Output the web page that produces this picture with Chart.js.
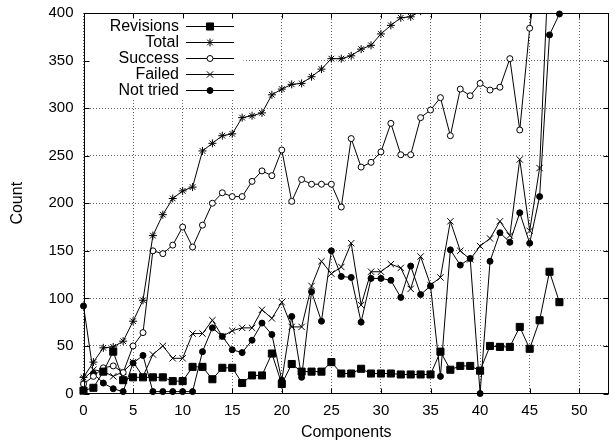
<!DOCTYPE html>
<html>
<head>
<meta charset="utf-8">
<script src="https://cdn.jsdelivr.net/npm/chart.js@4.4.0/dist/chart.umd.min.js"></script>
<style>
  html, body { margin: 0; padding: 0; background: #fff; }
  #wrap { width: 615px; height: 442px; }
</style>
</head>
<body>
<div id="wrap"><canvas id="chart" width="615" height="442"></canvas></div>
<script>
// components on the x axis
const components = [0, 1, 2, 3, 4, 5, 6, 7, 8, 9, 10, 11, 12, 13, 14, 15, 16, 17, 18, 19,
  20, 21, 22, 23, 24, 25, 26, 27, 28, 29, 30, 31, 32, 33, 34, 35, 36, 37, 38, 39,
  40, 41, 42, 43, 44, 45, 46, 47, 48];

const revisions = [3, 6, 23, 44, 14, 17, 17, 17, 17, 13, 13, 28, 28, 15, 27, 27, 11, 19, 19, 42,
  10, 31, 23, 23, 23, 33, 21, 21, 26, 21, 21, 21, 20, 20, 20, 20, 44, 25, 29, 29,
  24, 50, 49, 49, 70, 47, 77, 128, 96];

const total = [17, 33, 48, 49, 55, 76, 98, 166, 188, 205, 213, 217, 255, 263, 271, 273, 290, 292, 295, 314,
  320, 325, 326, 333, 341, 352, 352, 355, 362, 366, 378, 387, 395, 396, 402, 410, 418, 425, 430, 436,
  440, 447, 452, 460, 470, 478, 520, 560, 580];

const success = [10, 18, 27, 29, 22, 50, 64, 150, 147, 156, 175, 154, 177, 200, 211, 207, 207, 223, 234, 229,
  256, 202, 225, 220, 220, 220, 196, 268, 238, 243, 254, 284, 251, 251, 290, 298, 311, 271, 320, 313,
  326, 319, 322, 352, 277, 384, 460, 510, 530];

const failed = [15, 25, 23, 18, 23, 33, 18, 41, 50, 37, 37, 63, 63, 77, 60, 66, 69, 69, 88, 79,
  96, 70, 70, 113, 139, 126, 133, 158, 93, 128, 128, 136, 132, 110, 144, 114, 122, 181, 150, 141,
  155, 163, 181, 166, 246, 171, 237, 470, 500];

const notTried = [92, 21, 11, 5, 2, 32, 40, 2, 2, 2, 2, 2, 44, 69, 60, 46, 43, 56, 74, 62,
  14, 81, 17, 107, 76, 150, 123, 122, 75, 121, 121, 119, 101, 134, 104, 113, 18, 151, 135, 142,
  0, 139, 169, 159, 190, 158, 207, 377, 399];

const xTicks = [0, 5, 10, 15, 20, 25, 30, 35, 40, 45, 50];
const yTicks = [0, 50, 100, 150, 200, 250, 300, 350, 400];

const FONT = '"Liberation Sans", Arial, Helvetica, sans-serif';
Chart.defaults.font.family = FONT;
Chart.defaults.color = '#000';

const pairs = (vals) => vals.map((v, i) => ({ x: components[i], y: v }));

function series(label, vals, style, radius, fill, clipTop) {
  return {
    label: label,
    data: pairs(vals),
    borderColor: '#000',
    borderWidth: 1,
    pointStyle: style,
    pointRadius: radius,
    pointBorderColor: '#000',
    pointBorderWidth: 1,
    pointBackgroundColor: fill,
    tension: 0,
    clip: { left: 6, right: 6, top: clipTop, bottom: 6 }
  };
}

// draw one legend marker the same way the points look
function marker(ctx, style, r, fill, x, y) {
  ctx.beginPath();
  if (style === 'rect') {
    const s = Math.SQRT1_2 * r;
    ctx.rect(x - s, y - s, 2 * s, 2 * s);
    ctx.fillStyle = fill; ctx.fill(); ctx.stroke();
  } else if (style === 'circle') {
    ctx.arc(x, y, r, 0, Math.PI * 2);
    ctx.fillStyle = fill; ctx.fill(); ctx.stroke();
  } else if (style === 'crossRot') {
    const d = Math.SQRT1_2 * r;
    ctx.moveTo(x - d, y - d); ctx.lineTo(x + d, y + d);
    ctx.moveTo(x - d, y + d); ctx.lineTo(x + d, y - d);
    ctx.stroke();
  } else if (style === 'star') {
    const d = Math.SQRT1_2 * r;
    ctx.moveTo(x - r, y); ctx.lineTo(x + r, y);
    ctx.moveTo(x, y - r); ctx.lineTo(x, y + r);
    ctx.moveTo(x - d, y - d); ctx.lineTo(x + d, y + d);
    ctx.moveTo(x - d, y + d); ctx.lineTo(x + d, y - d);
    ctx.stroke();
  }
}

// gnuplot style key in the top left corner
const keyPlugin = {
  id: 'gnuKey',
  beforeDatasetsDraw(chart) {
    const { ctx, chartArea } = chart;
    ctx.save();
    ctx.fillStyle = '#fff';
    ctx.fillRect(chartArea.left + 1, chartArea.top + 1, 159, 85);
    ctx.restore();
  },
  afterDraw(chart) {
    const { ctx, chartArea } = chart;
    const textRight = chartArea.left + 95.5;
    const lineStart = chartArea.left + 102.5;
    const lineEnd = chartArea.left + 150.5;
    ctx.save();
    ctx.font = '16px ' + FONT;
    ctx.textAlign = 'right';
    ctx.textBaseline = 'middle';
    ctx.strokeStyle = '#000';
    ctx.lineWidth = 1;
    chart.data.datasets.forEach((ds, i) => {
      const y = chartArea.top + 13 + i * 16;
      ctx.fillStyle = '#000';
      ctx.fillText(ds.label, textRight, y + 0.5);
      ctx.beginPath();
      ctx.moveTo(lineStart, y + 0.5);
      ctx.lineTo(lineEnd, y + 0.5);
      ctx.stroke();
      marker(ctx, ds.pointStyle, ds.pointRadius, ds.pointBackgroundColor, (lineStart + lineEnd) / 2, y + 0.5);
    });
    ctx.restore();
  }
};

// closed frame with inward tick marks on all four sides
const framePlugin = {
  id: 'frame',
  afterDraw(chart) {
    const { ctx, chartArea, scales } = chart;
    const L = Math.round(chartArea.left) + 0.5;
    const R = Math.round(chartArea.right) - 0.5;
    const T = Math.round(chartArea.top) + 0.5;
    const B = Math.round(chartArea.bottom) - 0.5;
    ctx.save();
    ctx.strokeStyle = '#000';
    ctx.lineWidth = 1;
    ctx.beginPath();
    xTicks.forEach(v => {
      const px = Math.round(scales.x.getPixelForValue(v)) + 0.5;
      ctx.moveTo(px, B); ctx.lineTo(px, B - 5);
      ctx.moveTo(px, T); ctx.lineTo(px, T + 5);
    });
    yTicks.forEach(v => {
      const py = Math.round(scales.y.getPixelForValue(v)) + 0.5;
      ctx.moveTo(L, py); ctx.lineTo(L + 5, py);
      ctx.moveTo(R, py); ctx.lineTo(R - 5, py);
    });
    ctx.stroke();
    ctx.strokeRect(L, T, R - L, B - T);
    ctx.restore();
  }
};

new Chart(document.getElementById('chart'), {
  type: 'line',
  data: {
    datasets: [
      series('Revisions', revisions, 'rect', 5, '#000', 6),
      series('Total', total, 'star', 4, '#000', 0),
      series('Success', success, 'circle', 3, '#fff', 0),
      series('Failed', failed, 'crossRot', 4.5, '#000', 0),
      series('Not tried', notTried, 'circle', 3, '#000', 6)
    ]
  },
  options: {
    responsive: false,
    animation: false,
    devicePixelRatio: 1,
    layout: { padding: { top: 13, right: 2, left: 0, bottom: 0 } },
    plugins: {
      legend: { display: false },
      tooltip: { enabled: false }
    },
    scales: {
      x: {
        type: 'linear',
        min: 0,
        max: 53,
        afterBuildTicks: (s) => { s.ticks = xTicks.map(v => ({ value: v })); },
        afterFit: (s) => { s.height = 48.5; s.paddingLeft = 0; s.paddingRight = 0; },
        grid: { color: '#666', lineWidth: 1, drawTicks: false },
        border: { display: false, dash: [1, 2] },
        ticks: { font: { size: 15 }, padding: 8, maxRotation: 0, autoSkip: false },
        title: { display: true, text: 'Components', font: { size: 16 }, padding: { top: 0, bottom: 0 } }
      },
      y: {
        min: 0,
        max: 400,
        afterBuildTicks: (s) => { s.ticks = yTicks.map(v => ({ value: v })); },
        afterFit: (s) => { s.width = 83.5; s.paddingTop = 0; s.paddingBottom = 0; },
        grid: { color: '#666', lineWidth: 1, drawTicks: false },
        border: { display: false, dash: [1, 2] },
        ticks: { font: { size: 15 }, padding: 10 },
        title: { display: true, text: 'Count', font: { size: 16 }, padding: { top: 8, bottom: 0 } }
      }
    }
  },
  plugins: [keyPlugin, framePlugin]
});
</script>
</body>
</html>
